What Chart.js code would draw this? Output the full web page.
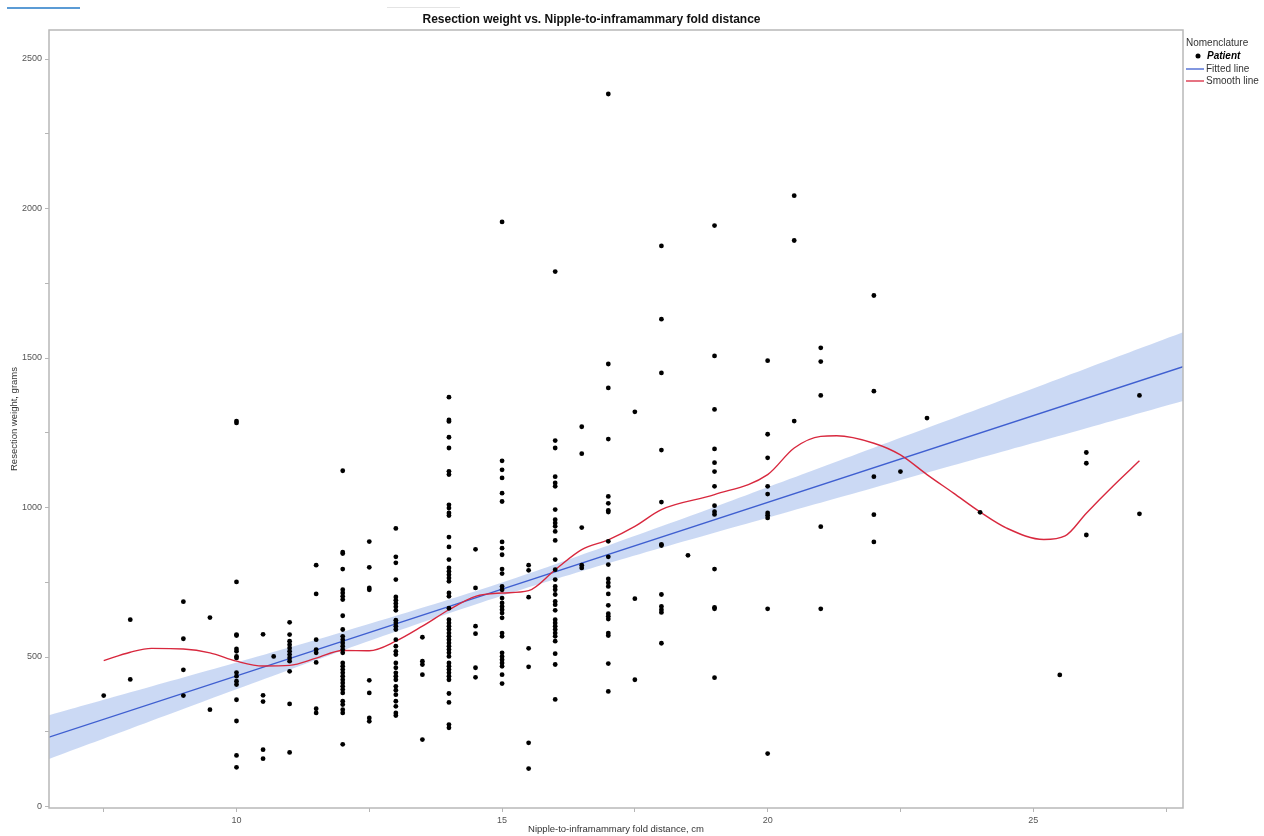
<!DOCTYPE html>
<html>
<head>
<meta charset="utf-8">
<script src="https://cdn.jsdelivr.net/npm/chart.js@4.4.1/dist/chart.umd.min.js"></script>
<style>
  html,body{margin:0;padding:0;background:#fff;}
</style>
</head>
<body>
<canvas id="c" width="1264" height="836"></canvas>
<script>
// ── data ────────────────────────────────────────────────────
// patient points: one x column (cm) with its list of weights (g)
const patientCols = [7.5, 8, 9, 9.5, 10, 10.5, 10.7, 11, 11.5, 12, 12.5, 13, 13.5, 14, 14.5, 15, 15.5,
                     16, 16.5, 17, 17.5, 18, 18.5, 19, 20, 20.5, 21, 22, 22.5, 23, 24, 25.5, 26, 27];
const patientWeights = [
  [371],
  [625, 425],
  [685, 561, 457, 371],
  [632, 324],
  [1289, 1283, 751, 575, 572, 527, 519, 502, 497, 448, 436, 419, 408, 357, 286, 171, 131],
  [576, 372, 351, 190, 160],
  [502],
  [616, 575, 553, 541, 530, 519, 508, 497, 486, 452, 343, 181],
  [807, 711, 558, 525, 514, 482, 327, 313],
  [1123, 851, 846, 794, 725, 714, 703, 692, 638, 592, 569, 558, 547, 536, 525, 514, 480, 469, 458, 447,
   436, 424, 413, 402, 391, 380, 352, 341, 324, 313, 208],
  [886, 800, 731, 725, 422, 380, 296, 285],
  [930, 835, 815, 759, 701, 690, 679, 668, 656, 623, 614, 603, 592, 558, 536, 519, 508, 480, 464, 447,
   436, 424, 402, 389, 374, 352, 335, 313, 304],
  [566, 486, 475, 441, 224],
  [1369, 1293, 1288, 1235, 1199, 1121, 1110, 1009, 998, 982, 973, 901, 868, 826, 798, 786, 775, 764, 753,
   714, 703, 663, 625, 614, 603, 592, 580, 569, 558, 547, 536, 525, 514, 502, 480, 469, 458, 447, 436,
   424, 378, 348, 274, 263],
  [860, 731, 603, 578, 464, 432],
  [1955, 1156, 1126, 1099, 1048, 1020, 885, 864, 842, 794, 779, 736, 725, 697, 681, 669, 658, 647, 631,
   580, 569, 514, 502, 491, 480, 469, 441, 411],
  [807, 790, 700, 529, 467, 213, 127],
  [1789, 1224, 1199, 1103, 1082, 1071, 993, 959, 948, 937, 920, 890, 826, 792, 759, 736, 725, 709, 686,
   675, 656, 625, 614, 603, 592, 580, 569, 553, 511, 475, 358],
  [1270, 1180, 933, 807, 798],
  [2383, 1480, 1400, 1229, 1037, 1014, 990, 985, 887, 835, 809, 761, 748, 736, 711, 673, 645, 636, 627,
   580, 572, 478, 385],
  [1320, 695, 424],
  [1875, 1630, 1450, 1192, 1018, 877, 873, 709, 669, 658, 649, 546],
  [840],
  [1943, 1507, 1328, 1196, 1150, 1120, 1071, 1006, 986, 977, 794, 666, 661, 431],
  [1491, 1245, 1166, 1071, 1045, 982, 974, 965, 661, 177],
  [2043, 1893, 1289],
  [1534, 1488, 1375, 936, 661],
  [1709, 1389, 1103, 976, 885],
  [1120],
  [1299],
  [984],
  [440],
  [1184, 1148, 908],
  [1375, 979]
];

// fitted regression line (end points at the frame edges)
const fitX = [6.47, 27.82];
const fitY = [232, 1471];

// confidence band around the fit
const bandX     = [6.47, 8, 10, 12, 14, 15, 16, 18, 20, 22, 24, 26, 27.82];
const bandUpper = [305, 382, 482, 584, 692, 749, 810, 937, 1068, 1200, 1332, 1465, 1586];
const bandLower = [159, 260, 392, 522, 646, 705, 760, 865, 966, 1066, 1166, 1265, 1356];

// smoother
const smoothX = [7.5, 8, 8.4, 9, 9.5, 10, 10.5, 11, 11.5, 12, 12.5, 13, 13.5, 14, 14.5, 15, 15.5, 16, 16.5,
                 17, 17.5, 18, 19, 20, 20.5, 21, 21.3, 22, 22.5, 23, 23.5, 24, 24.5, 25.2, 25.6, 26, 26.5, 27];
const smoothY = [488, 516, 529, 527, 514, 486, 470, 472, 496, 522, 521, 553, 603, 658, 703, 714, 722, 792, 859,
                 892, 937, 993, 1043, 1110, 1199, 1238, 1240, 1215, 1176, 1110, 1048, 985, 931, 893, 905, 981, 1071, 1156];

const xTicks = [7.5, 10, 12.5, 15, 17.5, 20, 22.5, 25, 27.5];
const yTicks = [0, 250, 500, 750, 1000, 1250, 1500, 1750, 2000, 2250, 2500];

const FONT = '"Liberation Sans", Arial, sans-serif';
const BLUE = '#3f5fd0', RED = '#d8283e', BAND = 'rgba(160,185,235,0.55)';

const pts = [];
patientCols.forEach((x,i)=>patientWeights[i].forEach(w=>pts.push({x:x, y:w})));
const zip = (xs,ys)=>xs.map((x,i)=>({x:x, y:ys[i]}));

// frame round the plot + window artefacts at the very top
const framePlugin = {
  id:'frame',
  beforeDraw(chart){
    const c=chart.ctx;
    c.save();
    c.fillStyle='#fff'; c.fillRect(0,0,chart.width,chart.height);
    c.fillStyle='#5b9bd5'; c.fillRect(7,7,73,2);
    c.fillStyle='#e4e4e4'; c.fillRect(387,7,73,1);
    c.restore();
  },
  afterDraw(chart){
    const a=chart.chartArea, c=chart.ctx;
    c.save();
    c.strokeStyle='#b8b8b8'; c.lineWidth=1.5;
    c.strokeRect(a.left, a.top, a.right-a.left, a.bottom-a.top);
    c.restore();
  }
};

// legend drawn by hand (bold italic first entry, title on top)
const legendPlugin = {
  id:'sideLegend',
  afterDraw(chart){
    const c=chart.ctx, x0=chart.chartArea.right+3;
    c.save();
    c.textBaseline='middle';
    c.fillStyle='#333';
    c.font='10px '+FONT;
    c.fillText('Nomenclature', x0, 43);
    c.fillStyle='#000';
    c.beginPath(); c.arc(x0+12, 56, 2.5, 0, Math.PI*2); c.fill();
    c.font='italic bold 10px '+FONT;
    c.fillText('Patient', x0+21, 56);
    c.font='10px '+FONT;
    [['Fitted line',BLUE,69],['Smooth line',RED,81]].forEach(([t,col,y])=>{
      c.strokeStyle=col; c.lineWidth=1.3;
      c.beginPath(); c.moveTo(x0, y); c.lineTo(x0+18, y); c.stroke();
      c.fillStyle='#333';
      c.fillText(t, x0+20, y);
    });
    c.restore();
  }
};

new Chart(document.getElementById('c'), {
  type:'scatter',
  plugins:[framePlugin, legendPlugin],
  data:{
    datasets:[
      {label:'Patient', data:pts, backgroundColor:'#000', borderColor:'#000', pointRadius:2.4, pointBorderWidth:0, order:0},
      {label:'Smooth line', data:zip(smoothX,smoothY), showLine:true, borderColor:RED, borderWidth:1.4,
       pointRadius:0, cubicInterpolationMode:'monotone', order:1},
      {label:'Fitted line', data:zip(fitX,fitY), showLine:true, borderColor:BLUE, borderWidth:1.4, pointRadius:0, order:2},
      {label:'lower', data:zip(bandX,bandLower), showLine:true, borderWidth:0, borderColor:'rgba(0,0,0,0)',
       pointRadius:0, tension:0.4, order:4},
      {label:'upper', data:zip(bandX,bandUpper), showLine:true, borderWidth:0, borderColor:'rgba(0,0,0,0)',
       pointRadius:0, tension:0.4, fill:'-1', backgroundColor:BAND, order:3}
    ]
  },
  options:{
    responsive:false, animation:false, devicePixelRatio:1,
    layout:{padding:{left:0, right:81, top:0, bottom:0}},
    plugins:{
      legend:{display:false}, tooltip:{enabled:false},
      title:{display:true, text:'Resection weight vs. Nipple-to-inframammary fold distance',
             color:'#111', font:{size:12, weight:'bold', family:FONT}, padding:{top:12, bottom:3.6}}
    },
    scales:{
      x:{
        type:'linear', min:6.47, max:27.82,
        afterBuildTicks:s=>{ s.ticks=xTicks.map(v=>({value:v})); },
        afterFit:s=>{ s.height=28; },
        border:{display:false},
        grid:{drawOnChartArea:false, drawTicks:true, tickLength:4, color:'#b5b5b5'},
        ticks:{autoSkip:false, maxRotation:0, color:'#555', padding:3, font:{size:9, family:FONT},
               callback:v=> v%5===0 ? v : ''},
        title:{display:true, text:'Nipple-to-inframammary fold distance, cm', color:'#333',
               font:{size:9.5, family:FONT}, padding:{top:0, bottom:1.3}}
      },
      y:{
        type:'linear', min:-5, max:2597,
        afterBuildTicks:s=>{ s.ticks=yTicks.map(v=>({value:v})); },
        afterFit:s=>{ s.width=49; },
        border:{display:false},
        grid:{drawOnChartArea:false, drawTicks:true, tickLength:4, color:'#b5b5b5'},
        ticks:{autoSkip:false, color:'#555', padding:3, font:{size:9, family:FONT},
               callback:v=> v%500===0 ? v : ''},
        title:{display:true, text:'Resection weight, grams', color:'#333',
               font:{size:9.5, family:FONT}, padding:{top:9, bottom:0}}
      }
    }
  }
});
</script>
</body>
</html>
